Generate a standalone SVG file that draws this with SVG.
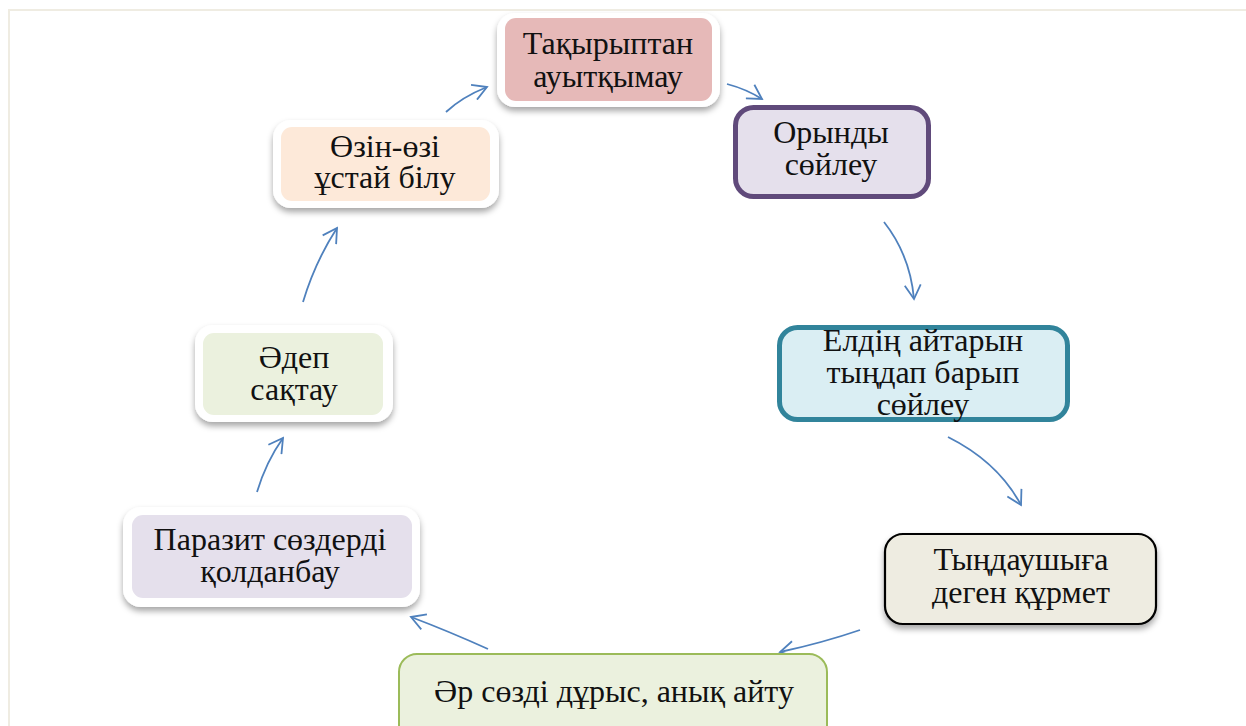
<svg xmlns="http://www.w3.org/2000/svg" width="1246" height="726" viewBox="0 0 1246 726">
<style>
  text { font-family: "Liberation Serif", "Times New Roman", serif; font-size: 32px; fill: #111; text-anchor: middle; }
  .conn { fill: none; stroke: #4f81bd; stroke-width: 1.8; }
  .halo { fill: #ffffff; filter: url(#shadow); }
</style>
<defs>
  <filter id="shadow" x="-10%" y="-15%" width="120%" height="140%">
    <feDropShadow dx="0" dy="4" stdDeviation="3" flood-color="#000" flood-opacity="0.35"/>
  </filter>
  <marker id="arr" markerWidth="18" markerHeight="18" refX="15" refY="9" orient="auto" markerUnits="userSpaceOnUse">
    <path d="M1,1 L15,9 L1,17" fill="none" stroke="#4f81bd" stroke-width="1.8"/>
  </marker>
</defs>
<rect width="1246" height="726" fill="#ffffff"/>
<path d="M9,726 L9,10 L1246,10" fill="none" stroke="#efece2" stroke-width="2"/>

<g id="connectors">
  <path class="conn" marker-end="url(#arr)" d="M446,112 Q462,97 487,87"/>
  <path class="conn" marker-end="url(#arr)" d="M727,84 Q746,89 762,99"/>
  <path class="conn" marker-end="url(#arr)" d="M884,222 Q910,255 914,299"/>
  <path class="conn" marker-end="url(#arr)" d="M948,437 Q998,462 1021,505"/>
  <path class="conn" marker-end="url(#arr)" d="M860,630 Q822,643 780,652"/>
  <path class="conn" marker-end="url(#arr)" d="M488,649 Q448,631 411,617"/>
  <path class="conn" marker-end="url(#arr)" d="M257,492 Q266,462 283,438"/>
  <path class="conn" marker-end="url(#arr)" d="M303,302 Q315,262 337,228"/>
</g>

<g id="node1">
  <rect class="halo" x="497" y="13" width="223" height="94" rx="18"/>
  <rect x="505" y="18" width="207" height="83" rx="11" fill="#e6b9b8"/>
  <text x="608" y="54">Тақырыптан</text>
  <text x="608" y="87">ауытқымау</text>
</g>

<g id="node2">
  <rect x="735.5" y="107.5" width="193" height="89" rx="18" fill="#e5e0ec" stroke="#604a7b" stroke-width="5"/>
  <text x="831" y="143">Орынды</text>
  <text x="831" y="175">сөйлеу</text>
</g>

<g id="node3">
  <rect x="779.5" y="327.5" width="288" height="92" rx="18" fill="#daeef3" stroke="#31849b" stroke-width="5"/>
  <text x="923" y="351">Елдің айтарын</text>
  <text x="923" y="383">тыңдап барып</text>
  <text x="923" y="415">сөйлеу</text>
</g>

<g id="node4">
  <rect x="885" y="534" width="271" height="90" rx="18" fill="#eeece1" stroke="#000" stroke-width="2.2" filter="url(#shadow)"/>
  <text x="1021" y="570">Тыңдаушыға</text>
  <text x="1021" y="603">деген құрмет</text>
</g>

<g id="node5">
  <rect x="399" y="654" width="428" height="100" rx="18" fill="#ebf1de" stroke="#9bbb59" stroke-width="2"/>
  <text x="614" y="702">Әр сөзді дұрыс, анық айту</text>
</g>

<g id="node6">
  <rect class="halo" x="123" y="507" width="297" height="100" rx="18"/>
  <rect x="132" y="515" width="280" height="83" rx="11" fill="#e5e0ec"/>
  <text x="270" y="550">Паразит сөздерді</text>
  <text x="270" y="582">қолданбау</text>
</g>

<g id="node7">
  <rect class="halo" x="195" y="325" width="198" height="97" rx="18"/>
  <rect x="203" y="333" width="180" height="82" rx="11" fill="#ebf1de"/>
  <text x="294" y="368">Әдеп</text>
  <text x="294" y="400">сақтау</text>
</g>

<g id="node8">
  <rect class="halo" x="273" y="120" width="226" height="88" rx="18"/>
  <rect x="281" y="127" width="209" height="74" rx="11" fill="#fde9d9"/>
  <text x="385" y="157">Өзін-өзі</text>
  <text x="385" y="188">ұстай білу</text>
</g>
</svg>
